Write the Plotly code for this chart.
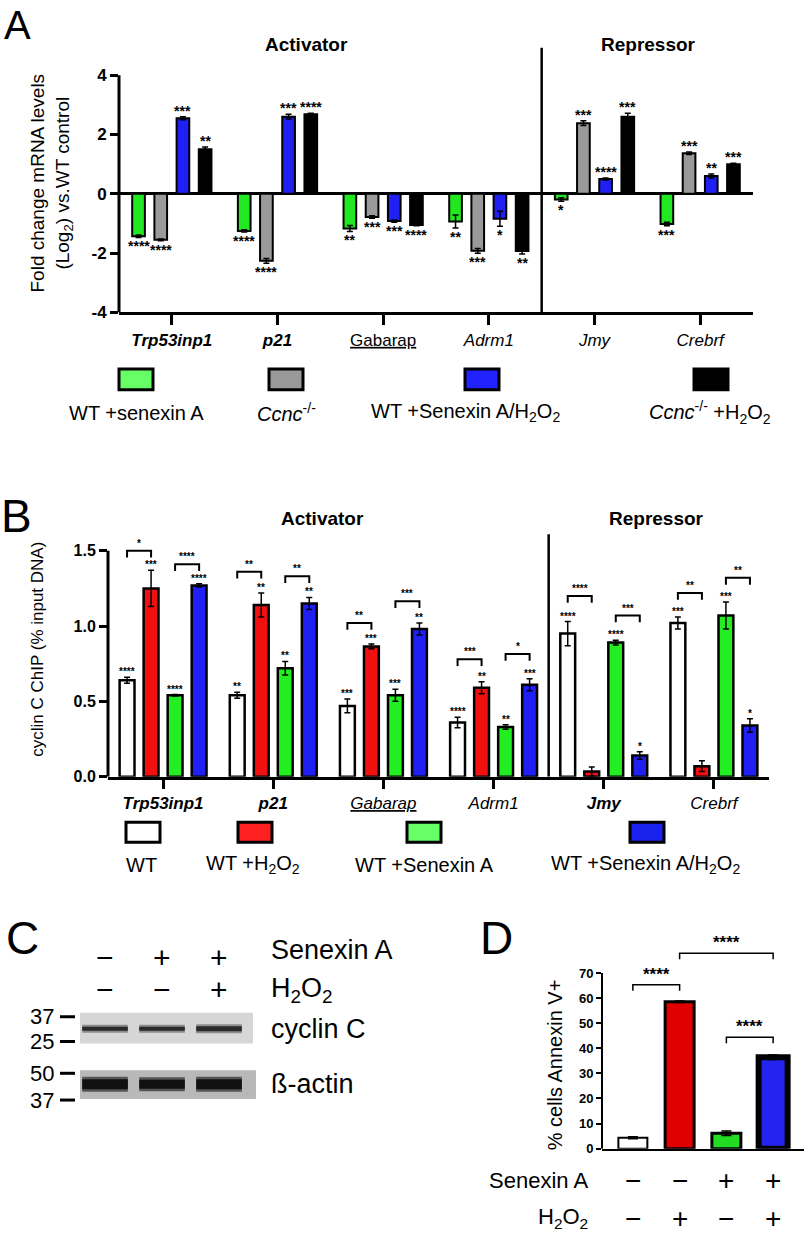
import plotly.graph_objects as go

W, H = 812, 1238
FONT = "Liberation Sans, Arial, Helvetica, sans-serif"


def PX(x):
    return x / W


def PY(y):
    return 1 - y / H


# ---------------- Panel A data ----------------
genes = ["Trp53inp1", "p21", "Gabarap", "Adrm1", "Jmy", "Crebrf"]
ticktext_a = ["<b><i>Trp53inp1</i></b>", "<b><i>p21</i></b>", "<u>Gabarap</u>",
              "<i>Adrm1</i>", "<i>Jmy</i>", "<i>Crebrf</i>"]
a_senexin = [-1.43, -1.25, -1.17, -0.93, -0.19, -1.02]
a_senexin_err = [0.04, 0.04, 0.10, 0.22, 0.06, 0.06]
a_ccnc = [-1.55, -2.26, -0.78, -1.92, 2.38, 1.37]
a_ccnc_err = [0.03, 0.08, 0.04, 0.08, 0.08, 0.04]
a_sen_h2o2 = [2.55, 2.60, -0.92, -0.84, 0.50, 0.60]
a_sen_h2o2_err = [0.05, 0.08, 0.04, 0.25, 0.03, 0.07]
a_ccnc_h2o2 = [1.50, 2.68, -1.05, -1.93, 2.60, 1.00]
a_ccnc_h2o2_err = [0.08, 0.04, 0.03, 0.10, 0.12, 0.03]
a_stars_senexin = ["****", "****", "**", "**", "*", "***"]
a_stars_ccnc = ["****", "****", "***", "***", "***", "***"]
a_stars_sen_h2o2 = ["***", "***", "***", "*", "****", "**"]
a_stars_ccnc_h2o2 = ["**", "****", "****", "**", "***", "***"]
a_legend = ["WT +senexin A", "<i>Ccnc</i><sup>-/-</sup>",
            "WT +Senexin A/H<sub>2</sub>O<sub>2</sub>",
            "<i>Ccnc</i><sup>-/-</sup> +H<sub>2</sub>O<sub>2</sub>"]
a_colors = ["#22e822", "#9a9a9a", "#2020f5", "#000000"]
a_legend_colors = ["#66ff66", "#999999", "#2222ff", "#000000"]

# ---------------- Panel B data ----------------
ticktext_b = ["<b><i>Trp53inp1</i></b>", "<b><i>p21</i></b>", "<i><u>Gabarap</u></i>",
              "<i>Adrm1</i>", "<b><i>Jmy</i></b>", "<i>Crebrf</i>"]
b_wt = [0.64, 0.54, 0.47, 0.36, 0.95, 1.02]
b_wt_err = [0.02, 0.02, 0.045, 0.035, 0.08, 0.04]
b_h2o2 = [1.25, 1.14, 0.865, 0.59, 0.035, 0.07]
b_h2o2_err = [0.12, 0.08, 0.015, 0.04, 0.03, 0.035]
b_sen = [0.54, 0.72, 0.54, 0.33, 0.89, 1.07]
b_sen_err = [0.005, 0.045, 0.04, 0.015, 0.015, 0.09]
b_sen_h2o2 = [1.27, 1.15, 0.98, 0.61, 0.14, 0.34]
b_sen_h2o2_err = [0.01, 0.04, 0.04, 0.04, 0.025, 0.045]
b_stars_wt = ["****", "**", "***", "****", "****", "***"]
b_stars_h2o2 = ["***", "**", "***", "**", "", ""]
b_stars_sen = ["****", "**", "***", "**", "****", "***"]
b_stars_sen_h2o2 = ["****", "**", "**", "***", "*", "*"]
b_bracket1_y = [1.50, 1.36, 1.02, 0.78, 1.20, 1.22]
b_bracket1_stars = ["*", "**", "**", "***", "****", "**"]
b_bracket2_y = [1.41, 1.33, 1.165, 0.815, 1.07, 1.32]
b_bracket2_stars = ["****", "**", "***", "*", "***", "**"]
b_legend = ["WT", "WT +H<sub>2</sub>O<sub>2</sub>", "WT +Senexin A",
            "WT +Senexin A/H<sub>2</sub>O<sub>2</sub>"]
b_colors = ["#ffffff", "#f01010", "#22ee22", "#2020f5"]
b_legend_colors = ["#ffffff", "#ff2020", "#66ff66", "#1a22ee"]

# ---------------- Panel C data ----------------
c_lanes = [1, 2, 3]
c_senexin = ["−", "+", "+"]
c_h2o2 = ["−", "−", "+"]
c_cyclinc_band = [4, 4, 5]       # band thickness (px)
c_actin_band = [10, 9, 10]
c_mw_labels = ["37", "25", "50", "37"]

# ---------------- Panel D data ----------------
d_values = [4.3, 58.5, 6.1, 36.4]
d_err = [0.4, 0.3, 0.9, 0.9]
d_colors = ["#ffffff", "#e00000", "#22dd22", "#2424f0"]
d_border = [2, 3, 3, 6]
d_senexin = ["−", "−", "+", "+"]
d_h2o2 = ["−", "+", "−", "+"]
d_br_left = [0, 1, 2]
d_br_right = [1, 3, 3]
d_br_y = [65.3, 77.9, 44.4]
d_br_text = ["****", "****", "****"]

fig = go.Figure()
ann = []
shapes = []


def text(t, x, y, size, xref="paper", yref="paper", **kw):
    d = dict(text=t, x=x, y=y, xref=xref, yref=yref, showarrow=False,
             xanchor="center", yanchor="middle",
             font=dict(family=FONT, size=size, color="black"))
    d.update(kw)
    ann.append(d)


# ---------------- Panel A ----------------
A_SLOT, A_W = 0.21, 0.12
xs = list(range(len(genes)))
a_series = [(a_senexin, a_senexin_err, a_stars_senexin),
            (a_ccnc, a_ccnc_err, a_stars_ccnc),
            (a_sen_h2o2, a_sen_h2o2_err, a_stars_sen_h2o2),
            (a_ccnc_h2o2, a_ccnc_h2o2_err, a_stars_ccnc_h2o2)]
for i, (vals, errs, stars) in enumerate(a_series):
    off = (i - 1.5) * A_SLOT
    fig.add_trace(go.Bar(x=xs, y=vals, offset=off - A_W / 2, width=A_W,
                         marker=dict(color=a_colors[i], line=dict(color="black", width=2)),
                         error_y=dict(type="data", array=errs, color="black", thickness=1.5, width=3),
                         xaxis="x", yaxis="y", showlegend=False))
    for j, (v, e, s) in enumerate(zip(vals, errs, stars)):
        if v >= 0:
            text("<b>%s</b>" % s, j + off, v + e, 14, "x", "y", yanchor="bottom", yshift=-4)
        else:
            text("<b>%s</b>" % s, j + off, v - e, 14, "x", "y", yanchor="top", yshift=1)

shapes.append(dict(type="line", xref="x domain", x0=0, x1=0, yref="y", y0=-4, y1=4,
                   line=dict(color="black", width=3)))
shapes.append(dict(type="line", xref="x", x0=3.5, x1=3.5, yref="y", y0=-4, y1=4.93,
                   line=dict(color="black", width=2.5)))
text("<b>Activator</b>", PX(306), PY(45), 19)
text("<b>Repressor</b>", PX(648), PY(45), 19)
text("A", PX(17), PY(25), 40)
text("Fold change mRNA levels<br>(Log<sub>2</sub>) vs.WT control", PX(52), PY(185), 19,
     textangle=-90)

a_leg_x = [136, 286, 482, 711]
a_leg_tx = [136, 286, 465, 710]
for k in range(4):
    shapes.append(dict(type="rect", xref="paper", yref="paper",
                       x0=PX(a_leg_x[k] - 17), x1=PX(a_leg_x[k] + 17), y0=PY(393), y1=PY(372),
                       fillcolor=a_legend_colors[k], line=dict(color="black", width=3)))
    text(a_legend[k], PX(a_leg_tx[k]), PY(416), 20)

# ---------------- Panel B ----------------
B_SLOT, B_W = 0.218, 0.135
b_series = [(b_wt, b_wt_err, b_stars_wt), (b_h2o2, b_h2o2_err, b_stars_h2o2),
            (b_sen, b_sen_err, b_stars_sen), (b_sen_h2o2, b_sen_h2o2_err, b_stars_sen_h2o2)]
for i, (vals, errs, stars) in enumerate(b_series):
    off = (i - 1.5) * B_SLOT
    fig.add_trace(go.Bar(x=xs, y=vals, offset=off - B_W / 2, width=B_W,
                         marker=dict(color=b_colors[i], line=dict(color="black", width=2.5)),
                         error_y=dict(type="data", array=errs, color="black", thickness=1.5, width=3),
                         xaxis="x2", yaxis="y2", showlegend=False))
    for j, (v, e, s) in enumerate(zip(vals, errs, stars)):
        if s:
            text("<b>%s</b>" % s, j + off, v + e, 10, "x2", "y2", yanchor="bottom", yshift=-2)

LEG = 0.045
for j in xs:
    for (yb, st, a, b) in [(b_bracket1_y[j], b_bracket1_stars[j], 0, 1),
                           (b_bracket2_y[j], b_bracket2_stars[j], 2, 3)]:
        x0 = j + (a - 1.5) * B_SLOT
        x1 = j + (b - 1.5) * B_SLOT
        shapes.append(dict(type="path", xref="x2", yref="y2",
                           path="M %f,%f L %f,%f L %f,%f L %f,%f" % (x0, yb - LEG, x0, yb, x1, yb, x1, yb - LEG),
                           line=dict(color="black", width=2)))
        text("<b>%s</b>" % st, (x0 + x1) / 2, yb, 10, "x2", "y2", yanchor="bottom", yshift=0)

shapes.append(dict(type="line", xref="x2 domain", x0=0, x1=0, yref="y2", y0=0, y1=1.5,
                   line=dict(color="black", width=3)))
shapes.append(dict(type="line", xref="x2", x0=3.5, x1=3.5, yref="y2", y0=0, y1=1.61,
                   line=dict(color="black", width=2.5)))
text("<b>Activator</b>", PX(322), PY(523), 19)
text("<b>Repressor</b>", PX(656), PY(523), 19)
text("B", PX(16), PY(520), 46)
text("cyclin C ChIP (% input DNA)", PX(38), PY(655), 17, textangle=-90)

b_leg_x = [143, 255, 424, 647]
b_leg_tx = [141, 253, 424, 645]
for k in range(4):
    shapes.append(dict(type="rect", xref="paper", yref="paper",
                       x0=PX(b_leg_x[k] - 17), x1=PX(b_leg_x[k] + 17), y0=PY(849), y1=PY(829),
                       fillcolor=b_legend_colors[k], line=dict(color="black", width=3)))
    text(b_legend[k], PX(b_leg_tx[k]), PY(872), 20)

# ---------------- Panel C (western blot) ----------------
shapes.append(dict(type="rect", xref="x3", yref="y3", x0=0.561, x1=3.596, y0=0.732, y1=1.286,
                   fillcolor="#d6d6d6", line=dict(width=0), layer="below"))
shapes.append(dict(type="rect", xref="x3", yref="y3", x0=0.561, x1=3.649, y0=-0.268, y1=0.25,
                   fillcolor="#b8b8b8", line=dict(width=0), layer="below"))
for k, lane in enumerate(c_lanes):
    fig.add_trace(go.Scatter(x=[lane - 0.4, lane + 0.4], y=[1, 1], mode="lines",
                             line=dict(color="#8c8c8c", width=c_cyclinc_band[k] + 4),
                             xaxis="x3", yaxis="y3", showlegend=False, hoverinfo="skip"))
    fig.add_trace(go.Scatter(x=[lane - 0.4, lane + 0.4], y=[1, 1], mode="lines",
                             line=dict(color="#2a2a2a", width=c_cyclinc_band[k]),
                             xaxis="x3", yaxis="y3", showlegend=False, hoverinfo="skip"))
    fig.add_trace(go.Scatter(x=[lane - 0.4, lane + 0.4], y=[0, 0], mode="lines",
                             line=dict(color="#555555", width=c_actin_band[k] + 5),
                             xaxis="x3", yaxis="y3", showlegend=False, hoverinfo="skip"))
    fig.add_trace(go.Scatter(x=[lane - 0.4, lane + 0.4], y=[0, 0], mode="lines",
                             line=dict(color="#111111", width=c_actin_band[k]),
                             xaxis="x3", yaxis="y3", showlegend=False, hoverinfo="skip"))
    text(c_senexin[k], lane, PY(965), 30, "x3", "paper")
    text(c_h2o2[k], lane, PY(998), 30, "x3", "paper")

c_mw_y = [1.214, 0.768, 0.196, -0.286]
for lab, yv in zip(c_mw_labels, c_mw_y):
    text(lab, PX(56), yv, 22, "paper", "y3", xanchor="right")
    shapes.append(dict(type="line", xref="paper", yref="y3", x0=PX(60), x1=PX(75), y0=yv, y1=yv,
                       line=dict(color="black", width=3)))
text("Senexin A", PX(269), PY(958), 27, xanchor="left")
text("H<sub>2</sub>O<sub>2</sub>", PX(269), PY(998), 27, xanchor="left")
text("cyclin C", PX(269), 1, 27, "paper", "y3", xanchor="left")
text("ß-actin", PX(269), 0, 27, "paper", "y3", xanchor="left")
text("C", PX(22), PY(946), 46)

# ---------------- Panel D ----------------
d_x = list(range(len(d_values)))
fig.add_trace(go.Bar(x=d_x, y=d_values, width=0.62,
                     marker=dict(color=d_colors, line=dict(color="black", width=d_border)),
                     error_y=dict(type="data", array=d_err, color="black", thickness=1.5, width=5),
                     xaxis="x4", yaxis="y4", showlegend=False))
for l, r, yb, st in zip(d_br_left, d_br_right, d_br_y, d_br_text):
    shapes.append(dict(type="path", xref="x4", yref="y4",
                       path="M %f,%f L %f,%f L %f,%f L %f,%f" % (l, yb - 2.4, l, yb, r, yb, r, yb - 2.4),
                       line=dict(color="black", width=1.5)))
    text("<b>%s</b>" % st, (l + r) / 2, yb, 17, "x4", "y4", yanchor="bottom", yshift=-1)
shapes.append(dict(type="line", xref="x4 domain", x0=0, x1=0, yref="y4", y0=0, y1=70,
                   line=dict(color="black", width=2)))
for k in d_x:
    text(d_senexin[k], k, PY(1190), 28, "x4", "paper")
    text(d_h2o2[k], k, PY(1228), 28, "x4", "paper")
text("Senexin A", PX(590), PY(1190), 22, xanchor="right")
text("H<sub>2</sub>O<sub>2</sub>", PX(590), PY(1228), 22, xanchor="right")
text("% cells Annexin V+", PX(555), PY(1074), 20, textangle=-90)
text("D", PX(496), PY(946), 46)

axis_common = dict(showgrid=False, zeroline=False, color="black", fixedrange=True)

fig.update_layout(
    width=W, height=H, margin=dict(l=0, r=0, t=0, b=0),
    plot_bgcolor="white", paper_bgcolor="white", barmode="overlay", showlegend=False,
    font=dict(family=FONT, color="black"),
    xaxis=dict(domain=[PX(119), PX(753)], range=[-0.5, 5.5], anchor="y",
               tickvals=xs, ticktext=ticktext_a, ticks="outside", ticklen=10, tickwidth=3,
               tickcolor="black", showline=True, linewidth=3, linecolor="black",
               tickfont=dict(family=FONT, size=17, color="black"), **axis_common),
    yaxis=dict(domain=[PY(315), PY(48)], range=[-4, 4.93], anchor="x",
               tickvals=[-4, -2, 0, 2, 4], ticktext=["<b>%d</b>" % v for v in [-4, -2, 0, 2, 4]],
               ticks="outside", ticklen=8, tickwidth=3, tickcolor="black", showline=False,
               tickfont=dict(family=FONT, size=17, color="black"),
               showgrid=False, color="black", fixedrange=True,
               zeroline=True, zerolinewidth=3, zerolinecolor="black"),
    xaxis2=dict(domain=[PX(108), PX(769)], range=[-0.5, 5.5], anchor="y2",
                tickvals=xs, ticktext=ticktext_b, ticks="outside", ticklen=9, tickwidth=3,
                tickcolor="black", showline=True, linewidth=3, linecolor="black",
                tickfont=dict(family=FONT, size=17, color="black"), **axis_common),
    yaxis2=dict(domain=[PY(783), PY(537)], range=[0, 1.62], anchor="x2",
                tickvals=[0, 0.5, 1.0, 1.5], ticktext=["<b>0.0</b>", "<b>0.5</b>", "<b>1.0</b>", "<b>1.5</b>"],
                ticks="outside", ticklen=8, tickwidth=3, tickcolor="black", showline=False,
                tickfont=dict(family=FONT, size=16, color="black"), **axis_common),
    xaxis3=dict(domain=[PX(80), PX(256)], range=[0.561, 3.649], anchor="y3", visible=False,
                **axis_common),
    yaxis3=dict(domain=[PY(1115), PY(1015)], range=[-0.393, 1.393], anchor="x3", visible=False,
                **axis_common),
    xaxis4=dict(domain=[PX(602), PX(804)], range=[-0.66, 3.66], anchor="y4",
                showticklabels=False, ticks="", showline=True, linewidth=2, linecolor="black",
                **axis_common),
    yaxis4=dict(domain=[PY(1158), PY(943)], range=[0, 85], anchor="x4",
                tickvals=list(range(0, 71, 10)), ticktext=["<b>%d</b>" % v for v in range(0, 71, 10)],
                ticks="outside", ticklen=5, tickwidth=2, tickcolor="black", showline=False,
                tickfont=dict(family=FONT, size=13, color="black"), **axis_common),
    annotations=ann, shapes=shapes,
)

fig.write_html("out.html", include_plotlyjs=True, config={"displayModeBar": False},
               post_script="document.body.style.margin='0';document.body.style.overflow='hidden';")
